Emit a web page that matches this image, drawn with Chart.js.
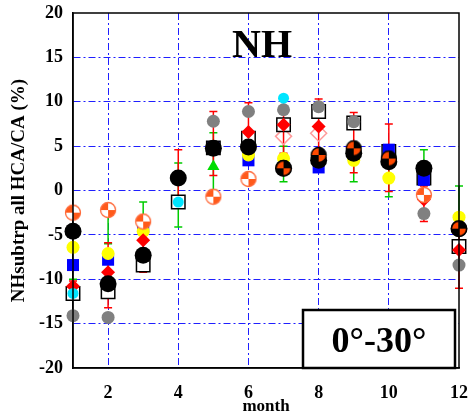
<!DOCTYPE html>
<html lang="en">
<head>
    <meta charset="UTF-8">
    <title>NH subtropics HCA/CA</title>
    <script src="https://cdn.jsdelivr.net/npm/chart.js"></script>
    <style>
        html, body { margin: 0; padding: 0; background: #fff; }
        #wrap { width: 470px; height: 418px; }
    </style>
</head>
<body>
<div id="wrap"><canvas id="nhChart" width="470" height="418"></canvas></div>

<script>
    // Monthly values (%) per product / marker
    const months = [1, 2, 3, 4, 5, 6, 7, 8, 9, 10, 11, 12];
    const blackCircle = [-4.6, -10.5, -7.3, 1.4, 4.75, 4.9, 2.5, 3.4, 4.2, 3.25, 2.5, -4.3];
    const greyCircle = [-14.1, -14.3, null, null, 7.8, 8.9, 9.1, 9.45, 7.75, null, -2.6, -8.4];
    const blueSquare = [-8.4, -7.8, -4.1, null, 4.8, 3.4, null, 2.6, null, 4.6, 1.2, null];
    const yellowCircle = [-6.4, -7.1, -4.6, null, null, 4.0, 3.6, null, 3.4, 1.4, null, -3.0];
    const redDiamond = [-10.8, -9.2, -5.6, null, null, 6.6, 7.4, 7.2, null, null, -1.0, -6.7];
    const greenTriangle = [null, null, null, null, 2.7, null, null, null, null, null, null, null];
    const openSquare = [-11.6, -11.4, -8.4, -1.3, 4.8, 5.9, 7.4, 8.9, 7.6, 4.4, 1.4, -6.3];
    const cyanCircle = [-11.6, null, null, -1.3, null, null, 10.4, null, null, null, null, null];
    const pinkDiamond = [null, null, null, null, null, null, 6.1, 6.45, null, null, null, null];
    const quadLight = [-2.5, -2.2, -3.5, null, -0.7, 1.3, null, null, null, null, -0.5, null];
    const quadDark = [null, null, null, null, null, null, 2.5, 4.0, 4.75, 3.6, null, -4.3];

    // error bar ranges
    const redLow = [-12.3, -13.2, -9.2, -1.6, 1.7, 3.0, 4.2, 4.2, 2.0, -0.1, -3.5, -11.0];
    const redHigh = [-10.2, -5.9, -3.8, 4.6, 8.9, 9.9, 10.1, 10.3, 8.8, 7.5, 0.5, -4.0];
    const greenLow = [-12.3, -6.0, -5.0, -4.1, 0.0, null, 1.0, null, 1.0, -0.7, 2.0, -4.0];
    const greenHigh = [-10.0, -2.3, -1.3, 3.1, 6.5, null, 5.0, null, 4.9, 5.0, 4.6, 0.5];

    const yTicks = [-20, -15, -10, -5, 0, 5, 10, 15, 20];

    const serif = '"Liberation Serif", "Times New Roman", serif';
    const gridBlue = '#1f1fff';
    const dashDot = [7, 3, 2, 3];

    function pts(vals) {
        return months.map((m, i) => ({ x: m, y: vals[i] })).filter(p => p.y !== null);
    }

    // circle split into quadrants, two of them in a second colour
    function quadMarker(fill, quad, ring) {
        const c = document.createElement('canvas');
        c.width = c.height = 18;
        const g = c.getContext('2d');
        const r = 7.5;
        g.beginPath(); g.arc(9, 9, r, 0, 2 * Math.PI); g.fillStyle = fill; g.fill();
        g.fillStyle = quad;
        g.beginPath(); g.moveTo(9, 9); g.arc(9, 9, r, -Math.PI / 2, 0); g.closePath(); g.fill();
        g.beginPath(); g.moveTo(9, 9); g.arc(9, 9, r, Math.PI / 2, Math.PI); g.closePath(); g.fill();
        g.lineWidth = 1.3; g.strokeStyle = ring;
        g.beginPath(); g.arc(9, 9, r, 0, 2 * Math.PI); g.stroke();
        return c;
    }

    const errorBars = {
        id: 'errorBars',
        beforeDatasetsDraw(chart) {
            const { ctx, scales: { x, y } } = chart;
            const draw = (lo, hi, color) => {
                ctx.save();
                ctx.strokeStyle = color;
                ctx.lineWidth = 1.5;
                months.forEach((m, i) => {
                    if (lo[i] === null) return;
                    const px = x.getPixelForValue(m);
                    const y1 = y.getPixelForValue(lo[i]);
                    const y2 = y.getPixelForValue(hi[i]);
                    ctx.beginPath();
                    ctx.moveTo(px, y1); ctx.lineTo(px, y2);
                    ctx.moveTo(px - 4, y1); ctx.lineTo(px + 4, y1);
                    ctx.moveTo(px - 4, y2); ctx.lineTo(px + 4, y2);
                    ctx.stroke();
                });
                ctx.restore();
            };
            draw(greenLow, greenHigh, '#00cc00');
            draw(redLow, redHigh, '#ff0000');
        }
    };

    // frame, "NH" label and latitude box
    const decorations = {
        id: 'decorations',
        afterDatasetsDraw(chart) {
            const { ctx, chartArea: a } = chart;
            ctx.save();
            ctx.strokeStyle = '#000';
            ctx.lineWidth = 1.5;
            ctx.setLineDash([]);
            ctx.strokeRect(a.left, a.top, a.right - a.left, a.bottom - a.top);

            ctx.fillStyle = '#000';
            ctx.font = 'bold 40px ' + serif;
            ctx.textAlign = 'center';
            ctx.textBaseline = 'alphabetic';
            ctx.fillText('NH', a.left + 189, a.top + 44);

            const bx = a.right - 156, by = a.bottom - 58;
            ctx.fillStyle = '#fff';
            ctx.fillRect(bx, by, 152, 58);
            ctx.lineWidth = 2.5;
            ctx.strokeRect(bx, by, 152, 58);
            ctx.fillStyle = '#000';
            ctx.font = 'bold 36px ' + serif;
            ctx.fillText('0°-30°', bx + 76, by + 42);
            ctx.restore();
        }
    };

    const lightMarker = quadMarker('#ff5a1a', '#ffffff', '#ff6a3a');
    const darkMarker = quadMarker('#ff4a00', '#000000', '#000000');

    const common = { showLine: false, clip: false, pointBorderWidth: 0 };

    new Chart(document.getElementById('nhChart').getContext('2d'), {
        type: 'scatter',
        data: {
            datasets: [
                { ...common, label: 'quadDark', data: pts(quadDark), pointStyle: darkMarker },
                { ...common, label: 'quadLight', data: pts(quadLight), pointStyle: lightMarker },
                { ...common, label: 'cyan', data: pts(cyanCircle), pointStyle: 'circle', pointRadius: 5.5, backgroundColor: '#00e5ff' },
                { ...common, label: 'black', data: pts(blackCircle), pointStyle: 'circle', pointRadius: 8.5, backgroundColor: '#000' },
                { ...common, label: 'grey', data: pts(greyCircle), pointStyle: 'circle', pointRadius: 6.5, backgroundColor: '#808080' },
                { ...common, label: 'red', data: pts(redDiamond), pointStyle: 'rectRot', pointRadius: 7, backgroundColor: '#ff0000' },
                { ...common, label: 'yellow', data: pts(yellowCircle), pointStyle: 'circle', pointRadius: 6.5, backgroundColor: '#ffff00' },
                { ...common, label: 'green', data: pts(greenTriangle), pointStyle: 'triangle', pointRadius: 7, backgroundColor: '#00dd00' },
                { ...common, label: 'blue', data: pts(blueSquare), pointStyle: 'rect', pointRadius: 8.5, backgroundColor: '#0000ff' },
                { ...common, label: 'open', data: pts(openSquare), pointStyle: 'rect', pointRadius: 9.5, backgroundColor: '#fff', borderColor: '#000', pointBorderWidth: 1.5 },
                { ...common, label: 'pink', data: pts(pinkDiamond), pointStyle: 'rectRot', pointRadius: 8, backgroundColor: 'rgba(255,255,255,0)', borderColor: '#ff9a9a', pointBorderWidth: 1.5 }
            ]
        },
        options: {
            responsive: false,
            animation: false,
            layout: { padding: { top: 13, right: 11, left: 0, bottom: 0 } },
            plugins: { legend: { display: false }, tooltip: { enabled: false } },
            scales: {
                x: {
                    type: 'linear',
                    min: 1,
                    max: 12,
                    afterFit: s => {
                        s.height = 50;
                        s.paddingLeft = 0;
                        s.paddingRight = 0;
                    },
                    border: { display: true, color: '#000', width: 1.5, dash: dashDot },
                    grid: {
                        drawTicks: false,
                        color: c => (c.tick && c.tick.value % 2 === 0 && c.tick.value < 12) ? gridBlue : 'transparent',
                        lineWidth: 1
                    },
                    ticks: {
                        stepSize: 1,
                        autoSkip: false,
                        maxRotation: 0,
                        padding: 15,
                        color: '#000',
                        font: { family: serif, size: 18, weight: 'bold' },
                        callback: v => (v % 2 === 0 ? v : '')
                    },
                    title: {
                        display: true,
                        text: 'month',
                        color: '#000',
                        font: { family: serif, size: 17, weight: 'bold' },
                        padding: { top: 0, bottom: 1 }
                    }
                },
                y: {
                    min: -20,
                    max: 20,
                    afterFit: s => {
                        s.width = 73;
                        s.paddingTop = 0;
                        s.paddingBottom = 0;
                    },
                    afterBuildTicks: s => { s.ticks = yTicks.map(v => ({ value: v })); },
                    border: { display: true, color: '#000', width: 1.5, dash: dashDot },
                    grid: {
                        drawTicks: false,
                        color: c => (c.tick && Math.abs(c.tick.value) < 20) ? gridBlue : 'transparent',
                        lineWidth: 1
                    },
                    ticks: {
                        padding: 10,
                        color: '#000',
                        font: { family: serif, size: 18, weight: 'bold' }
                    },
                    title: {
                        display: true,
                        text: 'NHsubtrp all HCA/CA (%)',
                        color: '#000',
                        font: { family: serif, size: 19, weight: 'bold' },
                        padding: { top: 8, bottom: 0 }
                    }
                }
            }
        },
        plugins: [errorBars, decorations]
    });
</script>
</body>
</html>
